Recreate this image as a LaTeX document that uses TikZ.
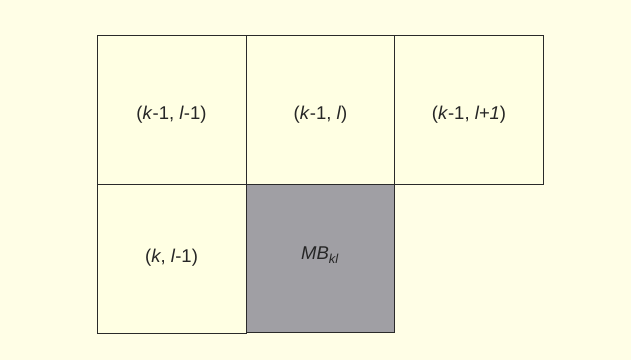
\documentclass[tikz,border=0pt]{standalone}
\usepackage{fontspec}
\setmainfont{Liberation Sans}
\definecolor{bgy}{HTML}{FFFEE6}
\definecolor{celly}{HTML}{FFFFE3}
\definecolor{mbgray}{HTML}{A09FA4}
\definecolor{edge}{HTML}{2A2A2A}
\begin{document}
\begin{tikzpicture}[x=1pt,y=-1pt,
  cellbox/.style={draw=edge, line width=1pt, fill=celly, minimum width=149pt, minimum height=149pt, inner sep=0pt},
  mbbox/.style={cellbox, fill=mbgray, minimum width=148pt, minimum height=148pt},
  celltext/.style={inner sep=0pt, font=\fontsize{18.5}{22}\selectfont, text=black!85}]
\fill[bgy] (0,0) rectangle (631,360);
\useasboundingbox (0,0) rectangle (631,360);
\node[cellbox] (a) at (171.5,109.5) {};
\node[cellbox] (b) at (320.5,109.5) {};
\node[cellbox] (c) at (469,109.5) {};
\node[cellbox] (d) at (171.5,258.5) {};
\node[mbbox] (e) at (320,258) {};
\node[celltext] (ta) at ([yshift=-5pt]a.center) {(\textit{k}-1, \textit{l}-1)};
\node[celltext] (tb) at ([yshift=-5pt]b.center) {(\textit{k}-1, \textit{l})};
\node[celltext] (tc) at ([yshift=-5pt]c.center) {(\textit{k}-1, \textit{l+1})};
\node[celltext] (td) at ([yshift=1pt]d.center) {(\textit{k}, \textit{l}-1)};
\node[celltext] (te) at ([yshift=3pt]e.center) {\textit{MB\textsubscript{kl}}};
\end{tikzpicture}
\end{document}
